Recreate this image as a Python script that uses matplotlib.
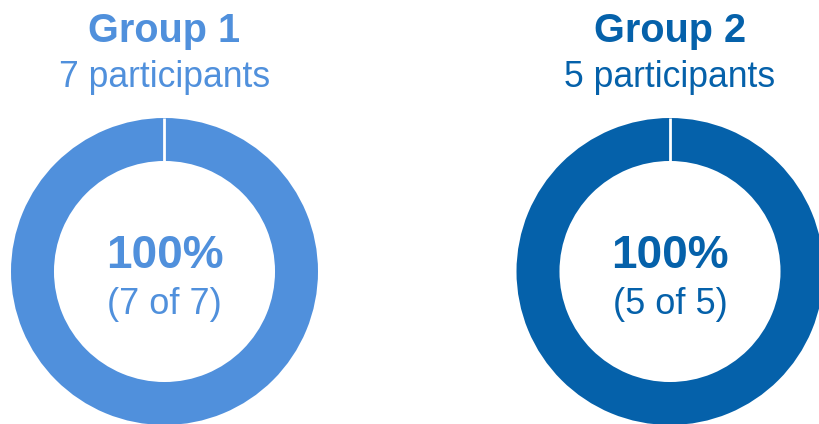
import matplotlib

matplotlib.use("Agg")
import matplotlib.pyplot as plt  # noqa: E402

plt.rcParams["font.family"] = ["Liberation Sans", "DejaVu Sans"]

GROUPS = ["Group 1", "Group 2"]
PARTICIPANTS = [7, 5]
COMPLETED = [7, 5]
COLORS = ["#5090DC", "#0561AA"]
CENTERS_X = [164.5, 670.0]  # pixel centres of the two donuts

W, H = 820, 424
CY = 271.5
R = 153.5
RING = 0.28

fig = plt.figure(figsize=(W / 100, H / 100), dpi=100)
fig.patch.set_facecolor("white")

for name, total, done, color, cx in zip(GROUPS, PARTICIPANTS, COMPLETED, COLORS, CENTERS_X):
    ax = fig.add_axes([(cx - R) / W, (H - CY - R) / H, 2 * R / W, 2 * R / H])
    ax.axis("off")
    values = [done, total - done]
    wedges, _ = ax.pie(values, colors=[color, "#E6E6E6"], startangle=90, counterclock=False,
                       radius=1.0, wedgeprops={"width": RING, "linewidth": 0})
    ax.set_xlim(-1, 1)
    ax.set_ylim(-1, 1)
    for w in wedges:
        w.set_clip_on(False)
    # thin white separator at the start of the ring
    ax.plot([0, 0], [1 - RING, 1.0], color="white", linewidth=2, solid_capstyle="butt", clip_on=False)

    pct = 100 * done / total
    ax.text(0, 0.025, f"{pct:.0f}%", ha="center", va="baseline", fontsize=33, fontweight="bold", color=color)
    ax.text(0, -0.275, f"({done} of {total})", ha="center", va="baseline", fontsize=26, color=color)

    fig.text(cx / W, 1 - 42 / H, name, ha="center", va="baseline", fontsize=28.5, fontweight="bold", color=color)
    fig.text(cx / W, 1 - 87 / H, f"{total} participants", ha="center", va="baseline", fontsize=25.6, color=color)

fig.savefig("out.png", dpi=100, facecolor="white")
